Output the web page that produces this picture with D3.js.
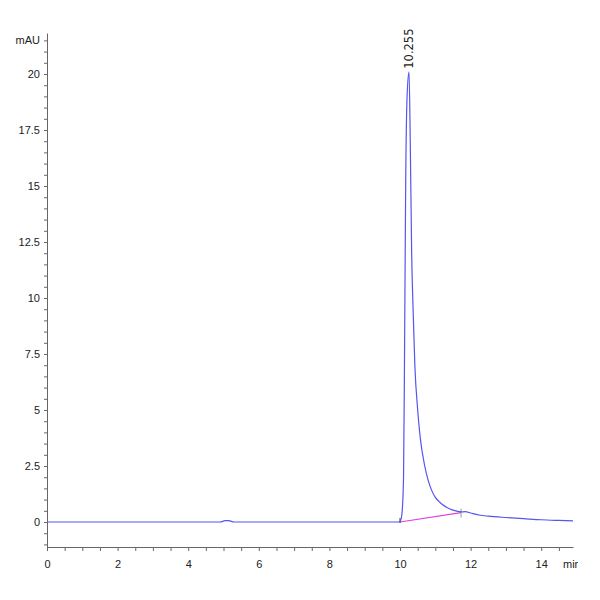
<!DOCTYPE html>
<html>
<head>
<meta charset="utf-8">
<script src="https://cdn.jsdelivr.net/npm/d3@7"></script>
<style>
  body { margin: 0; background: #fff; }
  .axis text, .unit { font-family: "Liberation Sans Narrow", "Liberation Sans", sans-serif; font-size: 11px; fill: #222; }
  .axis path, .axis line { stroke: #666; }
</style>
</head>
<body>
<div class="chart"></div>
<script>
// retention time (min) and signal (mAU)
const times = [0, 1, 2, 3, 4, 4.9, 5.05, 5.15, 5.3, 6, 7, 8, 9, 9.95, 10.0, 10.05, 10.1, 10.13, 10.16, 10.2, 10.255,
    10.29, 10.33, 10.37, 10.42, 10.5, 10.57, 10.7, 10.8, 10.9, 11.0, 11.1, 11.2, 11.33, 11.5, 11.73, 11.85, 12.0, 12.27,
    12.5, 13.0, 13.5, 14.0, 14.5, 14.9]
const signal = [0, 0, 0, 0, 0, 0, 0.06, 0.06, 0, 0, 0, 0, 0, 0, 0.02, 0.3, 2, 8, 15, 19, 20.1,
    17, 12, 9.5, 7, 5, 3.8, 2.5, 1.85, 1.4, 1.1, 0.92, 0.78, 0.65, 0.53, 0.45, 0.46, 0.4, 0.3,
    0.26, 0.2, 0.15, 0.1, 0.07, 0.05]

// integration baseline and peak label
const baseStart = [10.0, 0.0]
const baseEnd = [11.73, 0.42]
const peakTime = 10.255
const peakHeight = 20.1
const peakLabel = '10.255'

const yMajor = [0, 2.5, 5, 7.5, 10, 12.5, 15, 17.5, 20]
const xMajor = [0, 2, 4, 6, 8, 10, 12, 14]

let svg = d3.select('.chart')
    .append('svg:svg')
    .attr('width', 600)
    .attr('height', 600)

const x = d3.scaleLinear().domain([0, 14.9]).range([47, 573])
const y = d3.scaleLinear().domain([-1.116, 21.83]).range([547, 33])

// y axis, minor ticks every 0.5
let yTicks = d3.range(-1, 21.51, 0.5)
svg.append('g')
    .attr('class', 'axis')
    .attr('transform', 'translate(47,0)')
    .call(d3.axisLeft(y)
        .tickValues(yTicks)
        .tickSize(3)
        .tickPadding(4)
        .tickSizeOuter(0)
        .tickFormat(d => {
            if (Math.abs(d - 21.5) < 1e-6) return 'mAU'
            return yMajor.some(v => Math.abs(v - d) < 1e-6) ? d3.format('~g')(d) : ''
        }))

// x axis
let xTicks = d3.range(0, 14.51, 0.5)
svg.append('g')
    .attr('class', 'axis')
    .attr('transform', 'translate(0,547)')
    .call(d3.axisBottom(x)
        .tickValues(xTicks)
        .tickSize(4)
        .tickPadding(9)
        .tickSizeOuter(0)
        .tickFormat(d => xMajor.some(v => Math.abs(v - d) < 1e-6) ? d3.format('~g')(d) : ''))

// unit label, cut off at the right like the original export
svg.append('defs').append('clipPath')
    .attr('id', 'unitclip')
    .append('rect')
    .attr('x', 540).attr('y', 550).attr('width', 38).attr('height', 30)

svg.append('text')
    .attr('class', 'unit')
    .attr('x', 563)
    .attr('y', 568)
    .attr('clip-path', 'url(#unitclip)')
    .text('min')

// baseline under the peak
svg.append('svg:path')
    .attr('d', d3.line()([[x(baseStart[0]), y(baseStart[1])], [x(baseEnd[0]), y(baseEnd[1])]]))
    .attr('fill', 'none')
    .attr('stroke', '#e040e0')
    .attr('stroke-width', 1.2)

svg.append('line')
    .attr('x1', x(baseStart[0])).attr('x2', x(baseStart[0]))
    .attr('y1', y(baseStart[1]) - 4).attr('y2', y(baseStart[1]) + 1)
    .attr('stroke', '#333')
svg.append('line')
    .attr('x1', x(baseEnd[0])).attr('x2', x(baseEnd[0]))
    .attr('y1', y(baseEnd[1]) - 4).attr('y2', y(baseEnd[1]) + 5)
    .attr('stroke', '#999')

// chromatogram trace
let pts = times.map((t, i) => [x(t), y(signal[i])])
svg.append('svg:path')
    .attr('d', d3.line().curve(d3.curveMonotoneX)(pts))
    .attr('fill', 'none')
    .attr('stroke', '#5555f0')
    .attr('stroke-width', 1.2)

// peak label, rotated
svg.append('text')
    .attr('transform', `translate(${x(peakTime) + 4},${y(peakHeight) - 3}) rotate(-90)`)
    .attr('font-family', 'DejaVu Sans, sans-serif')
    .attr('font-size', 11.5)
    .attr('fill', '#222')
    .text(peakLabel)
</script>
</body>
</html>
